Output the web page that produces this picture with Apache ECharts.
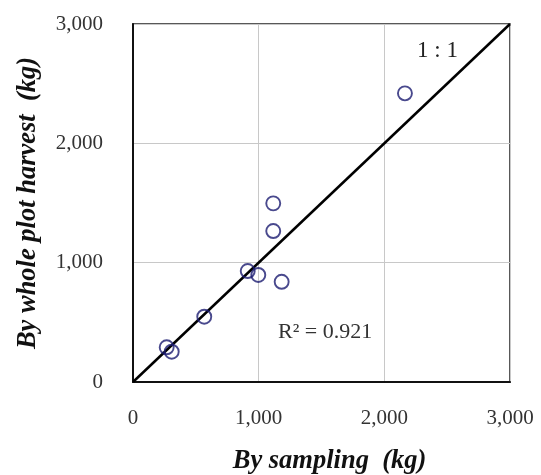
<!DOCTYPE html>
<html>
<head>
<meta charset="utf-8">
<script src="https://cdn.jsdelivr.net/npm/echarts@6/dist/echarts.min.js"></script>
<style>
  html, body { margin: 0; padding: 0; background: #fff; }
  #main { width: 541px; height: 475px; }
</style>
</head>
<body>
<div id="main"></div>
<script>
// 取样估计 vs 整块收获 (kg)
var bySampling = [2164, 1116, 1116, 913, 997, 1183, 567, 268, 308];
var byHarvest  = [2419, 1497, 1265, 930, 897, 840, 547, 291, 254];
var oneToOne = [[0, 0], [3000, 3000]];
var axisTicks = [0, 1000, 2000, 3000];

var points = [];
for (var i = 0; i < bySampling.length; i++) {
    points.push([bySampling[i], byHarvest[i]]);
}

var fontFam = '"Liberation Serif", "DejaVu Serif", serif';

var myChart = echarts.init(document.getElementById('main'));
var option = {
    backgroundColor: '#fff',
    animation: false,
    grid: {
        left: 133, top: 24, width: 377, height: 358,
        outerBoundsMode: 'none', containLabel: false,
        show: true, borderColor: '#222', borderWidth: 1.5
    },
    xAxis: {
        type: 'value', min: axisTicks[0], max: axisTicks[3], interval: 1000,
        name: 'By sampling  (kg)', nameLocation: 'middle', nameGap: 66,
        nameTextStyle: { fontFamily: fontFam, fontSize: 26.5, fontWeight: 'bold', fontStyle: 'italic', color: '#111',
            padding: [0, 0, 0, 16] },
        axisLine: { show: true, lineStyle: { color: '#111', width: 2 } },
        axisTick: { show: false },
        axisLabel: { margin: 26, fontFamily: fontFam, fontSize: 21, color: '#333',
            formatter: function (v) { return v.toLocaleString('en-US'); } },
        splitLine: { show: true, lineStyle: { color: '#c8c8c8', width: 1 } }
    },
    yAxis: {
        type: 'value', min: axisTicks[0], max: axisTicks[3], interval: 1000,
        name: 'By whole plot harvest  (kg)', nameLocation: 'middle', nameGap: 91,
        nameTextStyle: { fontFamily: fontFam, fontSize: 26.5, fontWeight: 'bold', fontStyle: 'italic', color: '#111' },
        axisLine: { show: true, lineStyle: { color: '#111', width: 2 } },
        axisTick: { show: false },
        axisLabel: { margin: 30, fontFamily: fontFam, fontSize: 21, color: '#333',
            formatter: function (v) { return v.toLocaleString('en-US'); } },
        splitLine: { show: true, lineStyle: { color: '#c8c8c8', width: 1 } }
    },
    series: [
        {
            type: 'line',
            data: oneToOne,
            symbol: 'none',
            lineStyle: { color: '#000', width: 2.5 },
            z: 2
        },
        {
            type: 'scatter',
            data: points,
            symbol: 'circle',
            symbolSize: 14,
            itemStyle: { color: 'rgba(255,255,255,0)', borderColor: '#1c1c70', borderWidth: 1.9 },
            z: 3
        }
    ],
    graphic: [
        { type: 'text', left: 417, top: 39,
          style: { text: '1 : 1', font: '23px "Liberation Serif", serif', fill: '#222' } },
        { type: 'text', left: 278, top: 321,
          style: { text: 'R\u00B2 = 0.921', font: '22px "Liberation Serif", serif', fill: '#333' } }
    ]
};
myChart.setOption(option);
</script>
</body>
</html>
